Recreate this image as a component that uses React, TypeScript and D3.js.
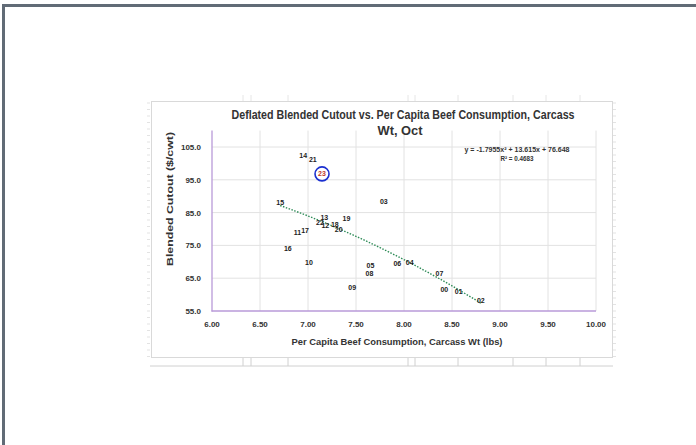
import React from "react";
import * as d3 from "d3";

const years = ["00","01","02","03","04","05","06","07","08","09","10","11","12","13","14","15","16","17","18","19","20","21","22","23"];
const consumption = [8.42,8.57,8.80,7.79,8.06,7.65,7.93,8.37,7.64,7.46,7.01,6.89,7.18,7.17,6.95,6.71,6.79,6.97,7.28,7.40,7.32,7.05,7.125,7.146];
const cutout = [61.7,61.0,58.3,88.3,69.9,68.9,69.4,66.4,66.4,62.3,69.9,78.8,81.1,83.4,102.3,88.0,74.0,79.6,81.3,83.1,79.7,101.3,82.1,96.8];
const xTicks = [6.0,6.5,7.0,7.5,8.0,8.5,9.0,9.5,10.0];
const yTicks = [55,65,75,85,95,105];
const trendCoef = [-1.7955, 13.615, 76.648];
const highlightYear = "23";

const FONT = "'Liberation Sans', Arial, sans-serif";

export default function App() {
  const x = d3.scaleLinear().domain([6, 10]).range([212, 596]);
  const y = d3.scaleLinear().domain([55, 110]).range([311, 130.6]);
  const xmin = d3.min(consumption) as number;
  const xmax = d3.max(consumption) as number;
  const trendPts = d3.range(0, 41).map(i => {
    const v = xmin + (xmax - xmin) * i / 40;
    return [v, trendCoef[0] * v * v + trendCoef[1] * v + trendCoef[2]] as [number, number];
  });
  const line = d3.line<[number, number]>().x(d => x(d[0])).y(d => y(d[1]));
  const hi = years.indexOf(highlightYear);
  const cellX = [243, 251, 288, 408, 415, 458, 513, 546, 580];
  const topCellX = [243, 251, 288, 408, 415, 458, 513, 546, 580];

  return (
    <svg width={696} height={445} style={{ position: "absolute", left: 0, top: 0, background: "#fff" }} fontFamily={FONT}>
      <rect x={0} y={0} width={696} height={445} fill="#fff" />
      {/* outer frame */}
      <rect x={2} y={4} width={694} height={3} fill="#616b76" />
      <rect x={2} y={4} width={3} height={441} fill="#616b76" />
      {/* spreadsheet cells */}
      {topCellX.map((cx, i) => (
        <line key={"tc" + i} x1={cx} x2={cx} y1={95} y2={101} stroke="#e6e6e6" strokeWidth={1} />
      ))}
      <line x1={150} x2={613} y1={366} y2={366} stroke="#d0d0d0" />
      {cellX.map((cx, i) => (
        <line key={"c" + i} x1={cx} x2={cx} y1={358} y2={366} stroke="#d0d0d0" strokeWidth={1} />
      ))}
      {d3.range(0, 40).map(i => (
        <line key={"rl" + i} x1={613} x2={616} y1={103 + i * 6.5} y2={103 + i * 6.5} stroke="#e3e3e3" />
      ))}
      {d3.range(0, 40).map(i => (
        <line key={"ll" + i} x1={147} x2={150} y1={103 + i * 6.5} y2={103 + i * 6.5} stroke="#e3e3e3" />
      ))}
      {/* chart box */}
      <rect x={151.5} y={101.5} width={461} height={256} fill="#fff" stroke="#d9d9d9" />
      {/* gridlines */}
      {xTicks.filter(t => t > 6).map(t => (
        <line key={"gx" + t} x1={x(t)} x2={x(t)} y1={130.6} y2={311} stroke="#e2e2e2" />
      ))}
      {yTicks.filter(t => t > 55).map(t => (
        <line key={"gy" + t} x1={212} x2={596} y1={y(t)} y2={y(t)} stroke="#e2e2e2" />
      ))}
      {/* axes */}
      <line x1={212} x2={212} y1={130.6} y2={311.5} stroke="#b99ad8" strokeWidth={1.3} />
      <line x1={211.5} x2={596} y1={311} y2={311} stroke="#b99ad8" strokeWidth={1.3} />
      {/* tick labels */}
      {yTicks.map(t => (
        <text key={"yt" + t} x={201} y={y(t) + 3} textAnchor="end" fontSize={8} fontWeight="bold" fill="#333">{t.toFixed(1)}</text>
      ))}
      {xTicks.map(t => (
        <text key={"xt" + t} x={x(t)} y={327} textAnchor="middle" fontSize={8} fontWeight="bold" fill="#333">{t.toFixed(2)}</text>
      ))}
      {/* axis titles */}
      <text x={397} y={345} textAnchor="middle" fontSize={9.5} fontWeight="bold" fill="#333" textLength={211} lengthAdjust="spacingAndGlyphs">Per Capita  Beef Consumption,  Carcass Wt (lbs)</text>
      <text transform="translate(173,199) rotate(-90)" textAnchor="middle" fontSize={9.5} fontWeight="bold" fill="#333" textLength={134} lengthAdjust="spacingAndGlyphs">Blended Cutout ($/cwt)</text>
      {/* title */}
      <text x={403} y={119} textAnchor="middle" fontSize={12} fontWeight="bold" fill="#333" textLength={343} lengthAdjust="spacingAndGlyphs">Deflated Blended Cutout vs. Per Capita Beef Consumption, Carcass</text>
      <text x={400} y={135} textAnchor="middle" fontSize={12} fontWeight="bold" fill="#333" textLength={45} lengthAdjust="spacingAndGlyphs">Wt, Oct</text>
      {/* trendline */}
      <path d={line(trendPts) || ""} fill="none" stroke="#2e8b57" strokeWidth={1.4} strokeDasharray="1.5 1.5" />
      {/* equation */}
      <text x={517} y={152} textAnchor="middle" fontSize={6.5} fontWeight="bold" fill="#333" textLength={105} lengthAdjust="spacingAndGlyphs">y = -1.7955x² + 13.615x + 76.648</text>
      <text x={517} y={160.5} textAnchor="middle" fontSize={6.5} fontWeight="bold" fill="#333" textLength={33} lengthAdjust="spacingAndGlyphs">R² = 0.4683</text>
      {/* data labels */}
      {years.map((yr, i) => (
        <text key={"d" + yr} x={x(consumption[i])} y={y(cutout[i]) + 2.5} textAnchor="middle" fontSize={7} fontWeight="bold" fill={yr === highlightYear ? "#c0392b" : "#222"}>{yr}</text>
      ))}
      <circle cx={x(consumption[hi])} cy={y(cutout[hi])} r={7} fill="none" stroke="#1a2fd0" strokeWidth={1.6} />
    </svg>
  );
}
